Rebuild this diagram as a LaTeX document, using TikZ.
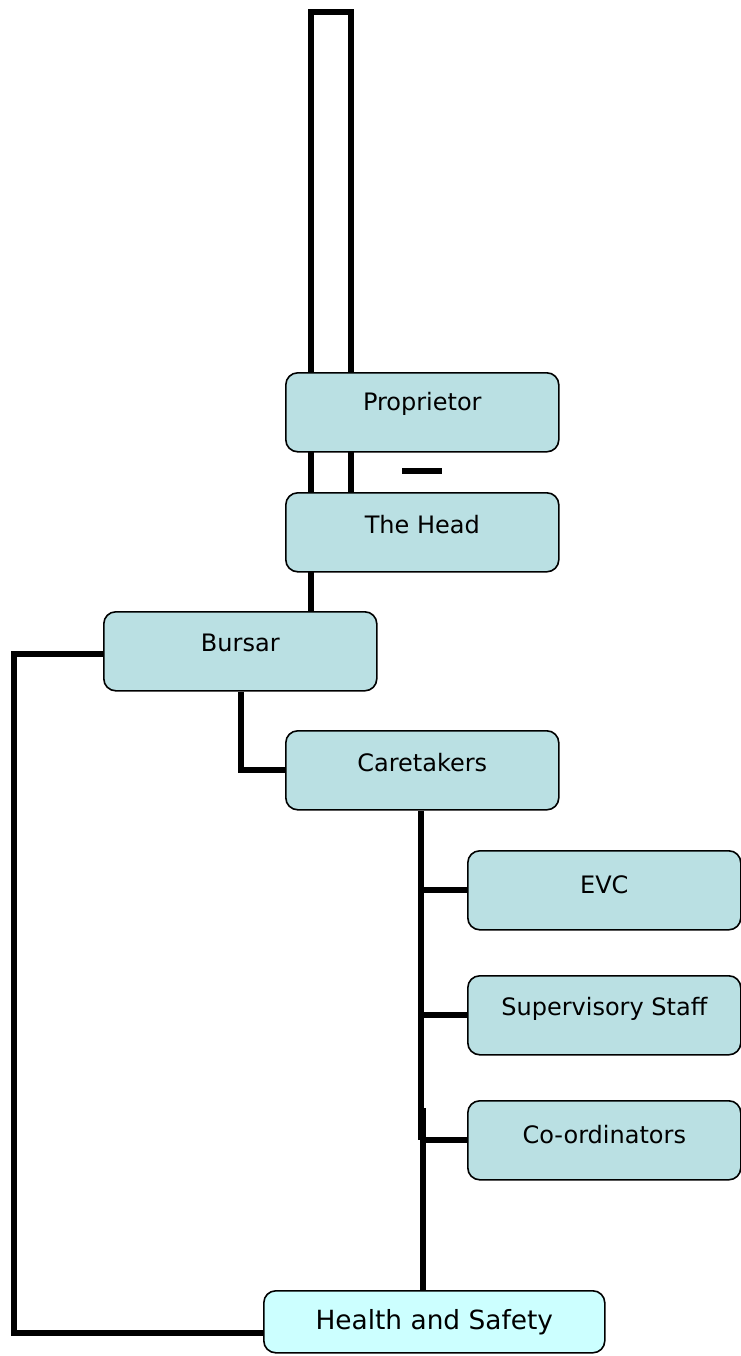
\documentclass[tikz,border=0pt]{standalone}
\usepackage{fontspec}
\setmainfont{DejaVu Sans}
\usetikzlibrary{backgrounds}
\definecolor{boxfill}{HTML}{BAE0E3}
\definecolor{hsfill}{HTML}{CCFFFF}
\begin{document}
\begin{tikzpicture}[x=0.5pt,y=-0.5pt,
  orgbox/.style={draw=black,line width=0.8pt,fill=boxfill,rounded corners=6pt,
    minimum width=136.5pt,minimum height=39.5pt,inner sep=0pt,anchor=north west},
  lbl/.style={font=\fontsize{12}{14}\selectfont,inner sep=0pt},
  conn/.style={line width=3pt,line join=miter}]
\useasboundingbox (0,0) rectangle (740,1356);
\node[orgbox] (prop) at (285,372) {};
\node[orgbox] (head) at (285,492) {};
\node[orgbox] (bursar) at (103,611) {};
\node[orgbox] (care) at (285,730) {};
\node[orgbox] (evc) at (467,850) {};
\node[orgbox] (sup) at (467,975) {};
\node[orgbox] (coord) at (467,1100) {};
\node[orgbox,fill=hsfill,minimum width=170.5pt,minimum height=31pt] (hs) at (263,1290) {};
\node[lbl] at ([yshift=4pt]prop.center) {Proprietor};
\node[lbl] at ([yshift=4pt]head.center) {The Head};
\node[lbl] at ([yshift=4pt]bursar.center) {Bursar};
\node[lbl] at ([yshift=4pt]care.center) {Caretakers};
\node[lbl] at ([yshift=3pt]evc.center) {EVC};
\node[lbl] at ([yshift=3pt]sup.center) {Supervisory Staff};
\node[lbl] at ([yshift=3pt]coord.center) {Co-ordinators};
\node[lbl,font=\fontsize{13.2}{15}\selectfont] at ([yshift=0pt]hs.center) {Health and Safety};
\coordinate (tl) at (311,12);
\coordinate (tr) at (351,12);
\coordinate (d1) at (402,471);
\coordinate (d2) at (442,471);
\coordinate (bl) at (14,654);
\coordinate (bb) at (14,1333);
\coordinate (bc) at (241,770);
\coordinate (v1) at (421,1140);
\coordinate (v2) at (423,1108);
\begin{scope}[on background layer]
\draw[conn] (bursar.north -| tl) -- (tl) -- (tr) -- (head.north -| tr);
\draw[conn] (d1) -- (d2);
\draw[conn] (bursar.west |- bl) -- (bl) -- (bb) -- (hs.west |- bb);
\draw[conn] (bursar.south -| bc) -- (bc) -- (care.west |- bc);
\draw[conn] (care.south -| v1) -- (v1);
\draw[conn] (v2) -- (hs.north -| v2);
\draw[conn] (v1 |- evc.west) -- (evc.west);
\draw[conn] (v1 |- sup.west) -- (sup.west);
\draw[conn] (v1 |- coord.west) -- (coord.west);
\end{scope}
\end{tikzpicture}
\end{document}
